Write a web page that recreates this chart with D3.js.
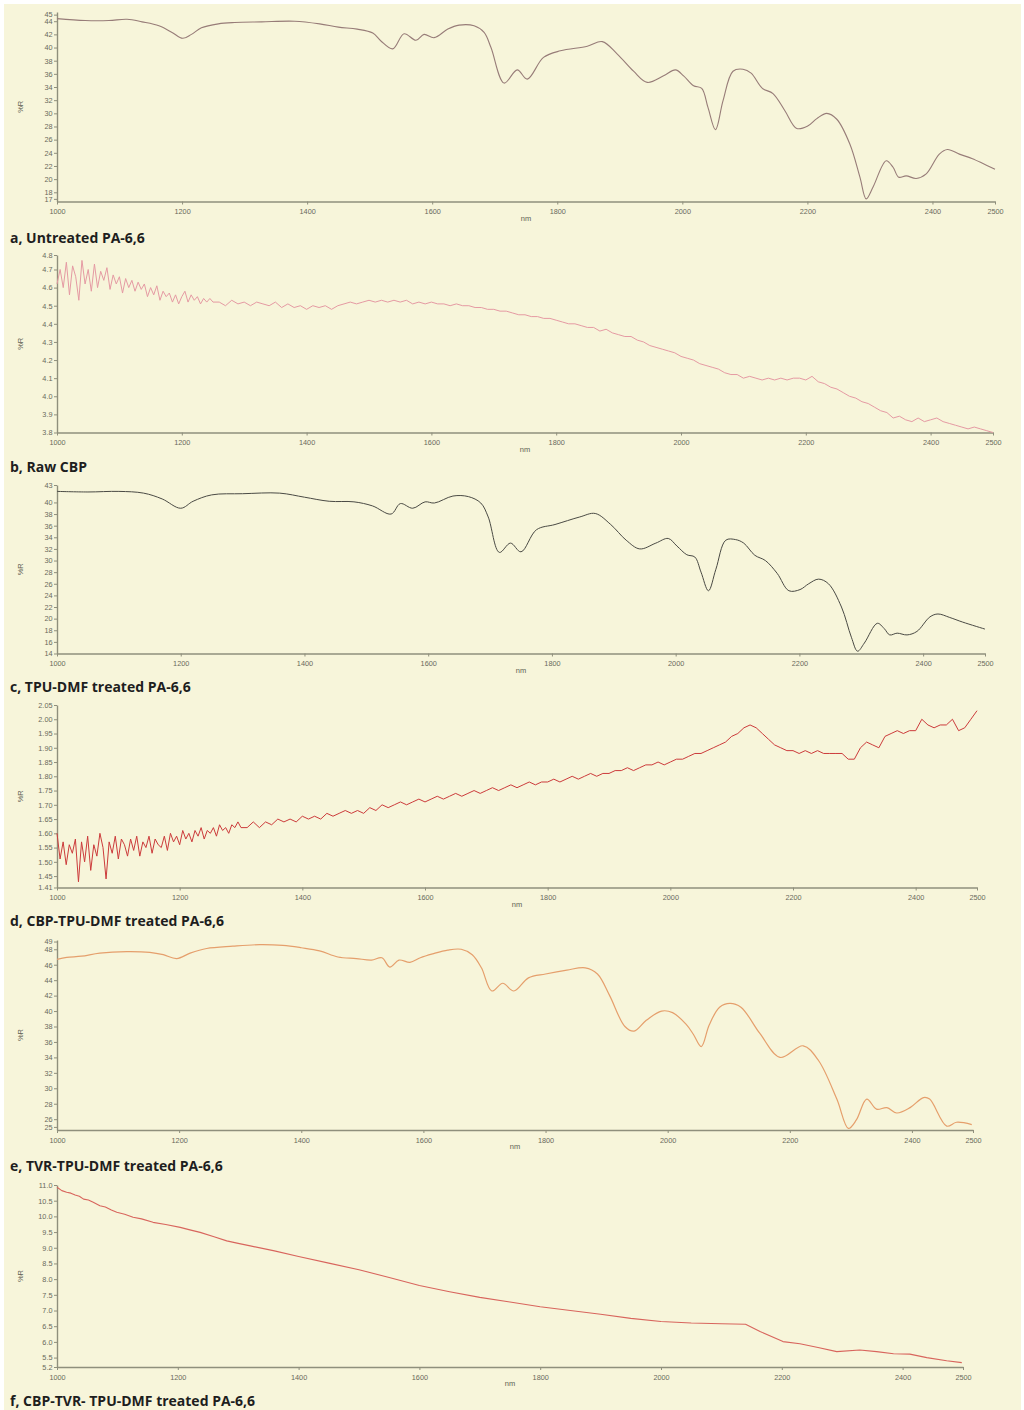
<!DOCTYPE html>
<html>
<head>
<meta charset="utf-8">
<script src="https://cdn.jsdelivr.net/npm/d3@7"></script>
<style>
body { margin: 0; background: #fff; }
svg { display: block; }
.tick text { font-family: "Liberation Sans", Arial, sans-serif; font-size: 7.3px; fill: #6a6a5c; }
.tick line, .domain { stroke: #8f8f7c; }
.domain { stroke-width: 1.4; }
.title { font-family: "Open Sans", sans-serif; font-weight: 700; font-size: 14px; fill: #1e1e1e; }
.axlabel { font-family: "Liberation Sans", Arial, sans-serif; font-size: 7.5px; fill: #5e5e52; }
</style>
</head>
<body>
<div id="chart"></div>
<script>
const w = 1024;
const h = 1410;

// x axis is the same for all six spectra (nm)
const xTicks = [1000, 1200, 1400, 1600, 1800, 2000, 2200, 2400, 2500];

// a, Untreated PA-6,6  [nm, %R]
const aData = [[1000,44.4],[1045,44.1],[1083,44.1],[1112,44.3],[1136,43.9],[1163,43.3],[1184,42.3],[1201,41.4],[1215,42.0],[1231,43.0],[1258,43.6],[1284,43.8],[1327,43.9],[1380,44.0],[1420,43.6],[1450,43.1],[1480,42.8],[1505,42.2],[1518,41.0],[1537,39.8],[1555,42.1],[1574,41.1],[1587,42.0],[1603,41.5],[1625,42.8],[1643,43.4],[1667,43.3],[1683,42.3],[1694,40.0],[1715,34.6],[1736,36.6],[1752,35.2],[1778,38.5],[1805,39.5],[1848,40.2],[1872,40.9],[1896,39.0],[1922,36.4],[1944,34.7],[1970,35.7],[1989,36.6],[2002,35.7],[2018,34.2],[2031,33.8],[2041,30.9],[2053,27.5],[2065,31.9],[2081,36.4],[2097,36.7],[2110,36.1],[2128,33.8],[2145,33.0],[2164,30.4],[2183,27.7],[2201,28.1],[2215,29.2],[2231,30.0],[2247,29.1],[2268,25.3],[2284,20.3],[2294,17.0],[2305,18.8],[2326,22.8],[2337,21.8],[2346,20.3],[2358,20.5],[2374,20.1],[2390,20.8],[2411,23.8],[2424,24.5],[2443,23.8],[2464,23.1],[2500,21.5]];
const aYTicks = [17, 18, 20, 22, 24, 26, 28, 30, 32, 34, 36, 38, 40, 42, 44, 45];

// b, Raw CBP  (5 nm steps to 1250, then 10 nm steps)
const bWave = d3.range(1000, 1250, 5).concat(d3.range(1250, 2501, 10));
const bVals = [
  4.62,4.70,4.60,4.74,4.56,4.72,4.66,4.53,4.75,4.62,
  4.70,4.58,4.73,4.60,4.69,4.64,4.71,4.59,4.67,4.62,
  4.66,4.57,4.65,4.60,4.64,4.58,4.63,4.59,4.62,4.55,
  4.60,4.56,4.61,4.53,4.58,4.55,4.57,4.52,4.56,4.51,
  4.55,4.58,4.52,4.56,4.53,4.55,4.51,4.54,4.52,4.54,
  4.52,
  4.52,4.50,4.53,4.51,4.52,4.50,4.52,4.51,4.50,4.52,
  4.49,4.51,4.49,4.50,4.48,4.50,4.49,4.50,4.48,4.50,
  4.51,4.52,4.51,4.52,4.53,4.52,4.53,4.52,4.53,4.52,
  4.53,4.51,4.52,4.51,4.52,4.51,4.51,4.50,4.51,4.50,
  4.50,4.49,4.49,4.48,4.48,4.47,4.47,4.46,4.45,4.45,
  4.44,4.44,4.43,4.43,4.42,4.41,4.40,4.40,4.39,4.38,
  4.38,4.36,4.37,4.35,4.34,4.33,4.33,4.31,4.30,4.28,
  4.27,4.26,4.25,4.24,4.22,4.21,4.20,4.18,4.17,4.16,
  4.15,4.13,4.12,4.12,4.10,4.11,4.10,4.09,4.10,4.09,
  4.10,4.09,4.10,4.10,4.09,4.11,4.08,4.07,4.05,4.04,
  4.02,4.00,3.99,3.97,3.96,3.94,3.92,3.91,3.88,3.89,
  3.87,3.86,3.88,3.86,3.87,3.88,3.86,3.85,3.84,3.83,
  3.82,3.83,3.82,3.81,3.80
];
const bYTicks = [3.8, 3.9, 4.0, 4.1, 4.2, 4.3, 4.4, 4.5, 4.6, 4.7, 4.78];
const bYLabels = ["3.8", "3.9", "4.0", "4.1", "4.2", "4.3", "4.4", "4.5", "4.6", "4.7", "4.8"];

// c, TPU-DMF treated PA-6,6
const cData = [[1000,41.9],[1050,41.8],[1100,41.9],[1140,41.6],[1170,40.6],[1200,39.0],[1220,40.2],[1250,41.3],[1300,41.5],[1360,41.6],[1400,40.9],[1440,40.2],[1480,40.1],[1510,39.4],[1540,38.0],[1555,39.8],[1575,39.0],[1595,40.1],[1610,39.9],[1640,41.1],[1665,41.0],[1685,39.9],[1697,37.5],[1715,31.4],[1733,33.0],[1750,31.5],[1775,35.3],[1805,36.2],[1845,37.5],[1870,38.1],[1895,36.2],[1920,33.5],[1942,32.0],[1968,33.0],[1988,33.8],[2002,32.5],[2018,31.0],[2031,30.6],[2041,28.0],[2053,24.8],[2065,28.5],[2081,33.5],[2097,33.6],[2110,33.0],[2128,30.9],[2145,30.0],[2164,27.8],[2183,24.8],[2201,25.0],[2215,26.0],[2231,26.8],[2247,26.0],[2268,22.0],[2284,16.8],[2294,14.4],[2305,15.8],[2326,19.2],[2337,18.3],[2346,17.2],[2358,17.5],[2374,17.2],[2390,17.8],[2411,20.3],[2424,20.8],[2443,20.2],[2464,19.4],[2500,18.2]];
const cYTicks = [14, 16, 18, 20, 22, 24, 26, 28, 30, 32, 34, 36, 38, 40, 43];

// d, CBP-TPU-DMF treated PA-6,6  (5 nm steps to 1300, then 10 nm steps)
const dWave = d3.range(1000, 1300, 5).concat(d3.range(1300, 2501, 10));
const dVals = [
  1.60,1.51,1.57,1.49,1.56,1.53,1.58,1.43,1.57,1.50,
  1.59,1.47,1.56,1.52,1.60,1.55,1.44,1.57,1.53,1.59,
  1.51,1.58,1.56,1.52,1.58,1.54,1.59,1.52,1.57,1.55,
  1.59,1.53,1.58,1.56,1.55,1.59,1.54,1.60,1.57,1.59,
  1.56,1.61,1.58,1.60,1.57,1.61,1.59,1.62,1.58,1.61,
  1.60,1.62,1.59,1.63,1.61,1.62,1.60,1.63,1.62,1.64,
  1.62,
  1.62,1.64,1.62,1.64,1.63,1.65,1.64,1.65,1.64,1.66,
  1.65,1.66,1.65,1.67,1.66,1.67,1.68,1.67,1.68,1.67,
  1.69,1.68,1.70,1.69,1.70,1.71,1.70,1.71,1.72,1.71,
  1.72,1.73,1.72,1.73,1.74,1.73,1.74,1.75,1.74,1.75,
  1.76,1.75,1.76,1.77,1.76,1.77,1.78,1.77,1.78,1.78,
  1.79,1.78,1.79,1.80,1.79,1.80,1.81,1.80,1.81,1.81,
  1.82,1.82,1.83,1.82,1.83,1.84,1.84,1.85,1.84,1.85,
  1.86,1.86,1.87,1.88,1.88,1.89,1.90,1.91,1.92,1.94,
  1.95,1.97,1.98,1.97,1.95,1.93,1.91,1.90,1.89,1.89,
  1.88,1.89,1.88,1.89,1.88,1.88,1.88,1.88,1.86,1.86,
  1.90,1.92,1.91,1.90,1.94,1.95,1.96,1.95,1.96,1.96,
  2.00,1.98,1.97,1.98,1.98,2.00,1.96,1.97,2.00,2.03
];
const dYTicks = [1.41, 1.45, 1.50, 1.55, 1.60, 1.65, 1.70, 1.75, 1.80, 1.85, 1.90, 1.95, 2.00, 2.05];

// e, TVR-TPU-DMF treated PA-6,6
const eData = [[1000,46.7],[1016,46.95],[1040,47.1],[1070,47.5],[1114,47.7],[1152,47.6],[1174,47.3],[1196,46.8],[1218,47.5],[1245,48.1],[1288,48.4],[1332,48.6],[1370,48.5],[1400,48.2],[1430,47.8],[1460,47.0],[1490,46.8],[1515,46.6],[1532,46.9],[1545,45.7],[1560,46.6],[1578,46.3],[1595,46.9],[1615,47.4],[1640,47.9],[1662,48.0],[1680,47.3],[1695,45.6],[1712,42.6],[1730,43.6],[1748,42.6],[1772,44.3],[1800,44.8],[1835,45.3],[1865,45.6],[1885,44.8],[1905,42.0],[1930,38.0],[1945,37.4],[1965,38.8],[1990,40.0],[2008,39.8],[2030,38.3],[2042,37.0],[2055,35.4],[2068,38.2],[2085,40.5],[2102,41.0],[2120,40.5],[2151,37.1],[2184,34.0],[2222,35.5],[2247,33.6],[2277,28.6],[2296,24.8],[2309,25.9],[2326,28.6],[2342,27.3],[2359,27.5],[2375,26.8],[2397,27.5],[2419,28.8],[2429,28.6],[2457,25.1],[2473,25.6],[2498,25.3]];
const eYTicks = [25, 26, 28, 30, 32, 34, 36, 38, 40, 42, 44, 46, 48, 49];

// f, CBP-TVR- TPU-DMF treated PA-6,6
const fData = [[1000,10.93],[1008,10.82],[1016,10.77],[1023,10.74],[1030,10.68],[1037,10.64],[1044,10.55],[1052,10.52],[1060,10.45],[1071,10.34],[1080,10.30],[1090,10.20],[1099,10.13],[1112,10.07],[1126,9.97],[1140,9.92],[1159,9.81],[1180,9.74],[1204,9.65],[1220,9.57],[1237,9.49],[1260,9.35],[1281,9.22],[1300,9.14],[1320,9.06],[1360,8.90],[1400,8.72],[1450,8.51],[1500,8.30],[1550,8.05],[1600,7.80],[1650,7.60],[1700,7.42],[1750,7.27],[1800,7.12],[1850,7.00],[1900,6.88],[1950,6.75],[2000,6.65],[2050,6.60],[2100,6.58],[2140,6.56],[2164,6.33],[2202,6.01],[2230,5.94],[2260,5.82],[2291,5.69],[2329,5.74],[2357,5.69],[2385,5.62],[2412,5.61],[2440,5.50],[2473,5.40],[2498,5.34]];
const fYTicks = [5.2, 5.5, 6.0, 6.5, 7.0, 7.5, 8.0, 8.5, 9.0, 9.5, 10.0, 10.5, 11.0];

const titles = [
  "a, Untreated PA-6,6",
  "b, Raw CBP",
  "c, TPU-DMF treated PA-6,6",
  "d, CBP-TPU-DMF treated PA-6,6",
  "e, TVR-TPU-DMF treated PA-6,6",
  "f, CBP-TVR- TPU-DMF treated PA-6,6"
];

// layout of each panel on the page
const panels = [
  {data: aData, ticks: aYTicks, labels: aYTicks.map(String), dom: [16.6, 45.4], x1: 995, top: 12, bottom: 201.5, color: "#977c78", width: 1.1, curve: d3.curveCatmullRom, title: 243},
  {data: bWave.map((d, i) => [d, bVals[i]]), ticks: bYTicks, labels: bYLabels, dom: [3.8, 4.78], x1: 993, top: 255, bottom: 432.5, color: "#e59aa3", width: 1, curve: d3.curveLinear, title: 472},
  {data: cData, ticks: cYTicks, labels: cYTicks.map(String), dom: [14, 43], x1: 985, top: 485, bottom: 653.5, color: "#4a4a44", width: 1, curve: d3.curveCatmullRom, title: 692},
  {data: dWave.map((d, i) => [d, dVals[i]]), ticks: dYTicks, labels: dYTicks.map(d => d.toFixed(2)), dom: [1.41, 2.05], x1: 977, top: 705, bottom: 887.5, color: "#cc3b3b", width: 1, curve: d3.curveLinear, title: 926},
  {data: eData, ticks: eYTicks, labels: eYTicks.map(String), dom: [24.6, 49.2], x1: 973, top: 940, bottom: 1130, color: "#e59f6c", width: 1.2, curve: d3.curveCatmullRom, title: 1171},
  {data: fData, ticks: fYTicks, labels: fYTicks.map(d => d.toFixed(1)), dom: [5.2, 11.0], x1: 963, top: 1185, bottom: 1367, color: "#d8655d", width: 1.1, curve: d3.curveLinear, title: 1406}
];

const x0 = 57;

const svg = d3.select("#chart")
  .append("svg")
  .attr("width", w)
  .attr("height", h);

//cream paper
svg.append("rect").attr("width", w).attr("height", h).attr("fill", "#ffffff");
svg.append("rect")
  .attr("x", 4).attr("y", 4)
  .attr("width", w - 7).attr("height", h - 4)
  .attr("fill", "#f7f5da");

panels.forEach((p, k) => {
  const g = svg.append("g");

  const xScale = d3.scaleLinear().domain([1000, 2500]).range([x0, p.x1]);
  const yScale = d3.scaleLinear().domain(p.dom).range([p.bottom, p.top]);

  const xAxis = d3.axisBottom(xScale)
    .tickValues(xTicks)
    .tickFormat(d => String(d))
    .tickSize(3)
    .tickSizeOuter(0);
  const yAxis = d3.axisLeft(yScale)
    .tickValues(p.ticks)
    .tickFormat((d, i) => p.labels[i])
    .tickSize(3)
    .tickSizeOuter(0)
    .tickPadding(1.5);

  g.append("g")
    .attr("transform", `translate(0,${p.bottom})`)
    .call(xAxis)
    .selectAll(".tick text").attr("dy", "0.9em");

  g.append("g")
    .attr("transform", `translate(${x0},0)`)
    .call(yAxis);

  //spectrum
  const line = d3.line()
    .x(d => xScale(d[0]))
    .y(d => yScale(d[1]))
    .curve(p.curve);
  g.append("path")
    .datum(p.data)
    .attr("fill", "none")
    .attr("stroke", p.color)
    .attr("stroke-width", p.width)
    .attr("stroke-linejoin", "round")
    .attr("d", line);

  //axis titles
  g.append("text")
    .attr("class", "axlabel")
    .attr("text-anchor", "middle")
    .attr("x", (x0 + p.x1) / 2)
    .attr("y", p.bottom + 19)
    .text("nm");
  g.append("text")
    .attr("class", "axlabel")
    .attr("text-anchor", "middle")
    .attr("transform", `translate(23,${(p.top + p.bottom) / 2}) rotate(-90)`)
    .text("%R");

  //panel caption
  svg.append("text")
    .attr("class", "title")
    .attr("x", 10)
    .attr("y", p.title)
    .text(titles[k]);
});
</script>
</body>
</html>
